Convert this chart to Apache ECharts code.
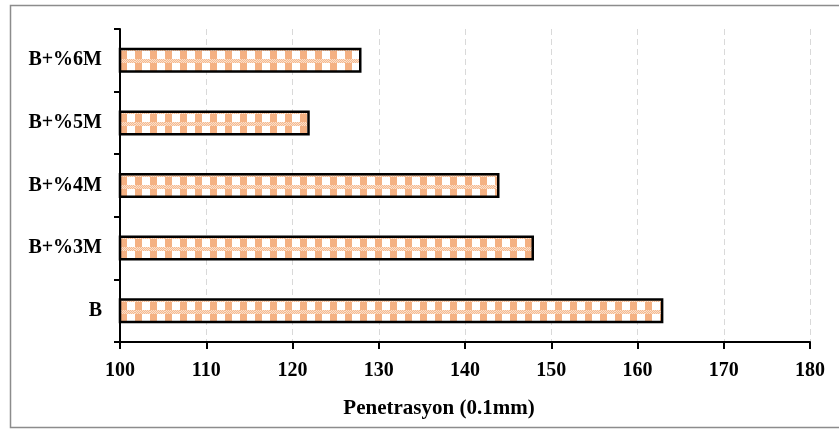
<!DOCTYPE html>
<html><head><meta charset="utf-8">
<script src="https://cdn.jsdelivr.net/npm/echarts@6/dist/echarts.min.js"></script>
<style>html,body{margin:0;padding:0;background:#fff}#c{width:839px;height:430px}</style>
</head><body><div id="c"></div>
<script>
const categories = ['B', 'B+%3M', 'B+%4M', 'B+%5M', 'B+%6M'];
const values = [163, 148, 144, 122, 128];
const xTicks = [100, 110, 120, 130, 140, 150, 160, 170, 180];
const axisTitle = 'Penetrasyon (0.1mm)';

const FONT = "'Liberation Serif', 'Times New Roman', serif";
const ORANGE = '#F4B183';

function makeTile(shift) {
  const W = 15, H = 12;
  const c = document.createElement('canvas');
  c.width = W; c.height = H;
  const ctx = c.getContext('2d');
  ctx.fillStyle = '#fff'; ctx.fillRect(0, 0, W, H);
  for (let y = 0; y < H; y++) {
    const yy = ((y - shift) % H + H) % H;
    for (let x = 0; x < W; x++) {
      if (yy < 2 || yy >= 10) {
        const on = (x + y) % 2 === 0;
        ctx.fillStyle = on ? '#F5B98F' : '#FBE0CC';
        ctx.fillRect(x, y, 1, 1);
      } else if (x < 7) {
        ctx.fillStyle = ORANGE; ctx.fillRect(x, y, 1, 1);
      }
    }
  }
  return c;
}

const chart = echarts.init(document.getElementById('c'), null, {renderer: 'canvas'});
const option = {
  animation: false,
  backgroundColor: '#fff',
  grid: {left: 120, right: 29, top: 29, bottom: 88, containLabel: false},
  xAxis: {
    type: 'value',
    min: xTicks[0], max: xTicks[xTicks.length - 1], interval: xTicks[1] - xTicks[0],
    axisLine: {show: true, lineStyle: {color: '#000', width: 2}},
    axisTick: {show: true, length: 7, lineStyle: {color: '#000', width: 2}},
    axisLabel: {margin: 19, color: '#000', fontFamily: FONT, fontWeight: 'bold', fontSize: 20},
    splitLine: {show: true, lineStyle: {color: '#d9d9d9', width: 1, type: [6, 4]}}
  },
  yAxis: {
    type: 'category',
    data: categories,
    axisLine: {show: true, lineStyle: {color: '#000', width: 2}},
    axisTick: {show: true, length: 6, lineStyle: {color: '#000', width: 2}},
    axisLabel: {margin: 18, color: '#000', fontFamily: FONT, fontWeight: 'bold', fontSize: 20},
    splitLine: {show: false}
  },
  graphic: [
    {type: 'rect', left: 8, top: 3, z: -10, silent: true,
     shape: {width: 840, height: 422},
     style: {fill: 'none', stroke: '#8c8c8c', lineWidth: 1.5}},
    {type: 'text', x: 439, y: 409, z: 10,
     style: {text: axisTitle, textAlign: 'center', textVerticalAlign: 'middle',
             font: 'bold 21px ' + FONT, fill: '#000'}}
  ],
  series: [{
    type: 'bar',
    barWidth: 25,
    data: values,
    itemStyle: {color: ORANGE, borderColor: '#000', borderWidth: 2.5}
  }]
};
chart.setOption(option);

const data = values.map((v, i) => {
  const cy = chart.convertToPixel({yAxisIndex: 0}, categories[i]);
  const top = Math.round(cy - 12.5 + 1.5);
  const shift = ((top % 12) + 12) % 12;
  return {value: v, itemStyle: {color: {image: makeTile(shift), repeat: 'repeat'}}};
});
chart.setOption({series: [{data: data}]});
</script>
</body></html>
